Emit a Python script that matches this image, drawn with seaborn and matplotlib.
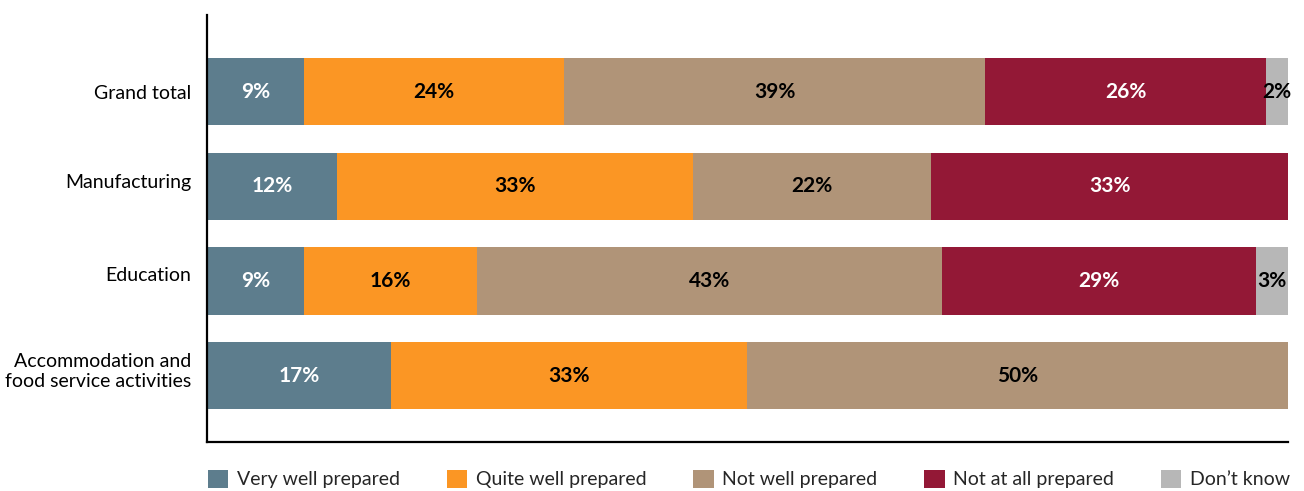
import numpy as np
import pandas as pd
import matplotlib
matplotlib.use("Agg")
import matplotlib.pyplot as plt
import matplotlib.transforms as mtransforms
import seaborn as sns
from matplotlib.patches import Patch

categories = ["Grand total", "Manufacturing", "Education",
              "Accommodation and\nfood service activities"]
series = ["Very well prepared", "Quite well prepared", "Not well prepared",
          "Not at all prepared", "Don\u2019t know"]
very_well = [9, 12, 9, 17]
quite_well = [24, 33, 16, 33]
not_well = [39, 22, 43, 50]
not_at_all = [26, 33, 29, 0]
dont_know = [2, 0, 3, 0]

colors = ["#5D7D8D", "#FB9624", "#B09478", "#931836", "#B7B7B7"]
label_colors = ["white", "black", "black", "white", "black"]

sns.set_theme(style="white")
plt.rcParams["font.family"] = ["Lato", "DejaVu Sans"]

values = np.array([very_well, quite_well, not_well, not_at_all, dont_know], dtype=float)
cum = np.cumsum(values, axis=0)

fig = plt.figure(figsize=(13.04, 4.91), dpi=100)
ax = fig.add_axes([0.1587, 0.0998, 0.829, 0.8697])

# stacked bars: draw cumulative totals from the outermost segment inwards
for i in range(len(series) - 1, -1, -1):
    df = pd.DataFrame({"category": categories, "total": cum[i]})
    sns.barplot(data=df, x="total", y="category", order=categories,
                color=colors[i], saturation=1, width=0.71, linewidth=0,
                ax=ax, orient="h")

for i in range(len(series)):
    for j in range(len(categories)):
        v = values[i, j]
        if v <= 0:
            continue
        center = cum[i, j] - v / 2
        ax.text(center, j, f"{int(v)}%", ha="center", va="center",
                color=label_colors[i], fontsize=15, fontweight="bold")

ax.set_xlim(0, 100)
ax.set_ylim(3.70, -0.81)
ax.set_xlabel("")
ax.set_ylabel("")
ax.set_xticks([])
ax.tick_params(axis="y", length=0, pad=11.5, labelsize=14, labelcolor="black")

# category labels sit slightly above the bar centres
shifts_px = [-0.5, 5, 7, 7]
for lab, dy in zip(ax.get_yticklabels(), shifts_px):
    lab.set_transform(lab.get_transform() +
                      mtransforms.ScaledTranslation(0, dy / 100, fig.dpi_scale_trans))

for s in ["top", "right"]:
    ax.spines[s].set_visible(False)
for s in ["left", "bottom"]:
    ax.spines[s].set_color("black")
    ax.spines[s].set_linewidth(1.6)

handles = [Patch(facecolor=c, edgecolor="none") for c in colors]
fig.legend(handles, series, loc="lower left", bbox_to_anchor=(0.146, -0.03),
           ncol=5, frameon=False, fontsize=14, handlelength=1.05,
           handleheight=1.05, handletextpad=0.45, columnspacing=2.4)

fig.savefig("out.png", dpi=100)
